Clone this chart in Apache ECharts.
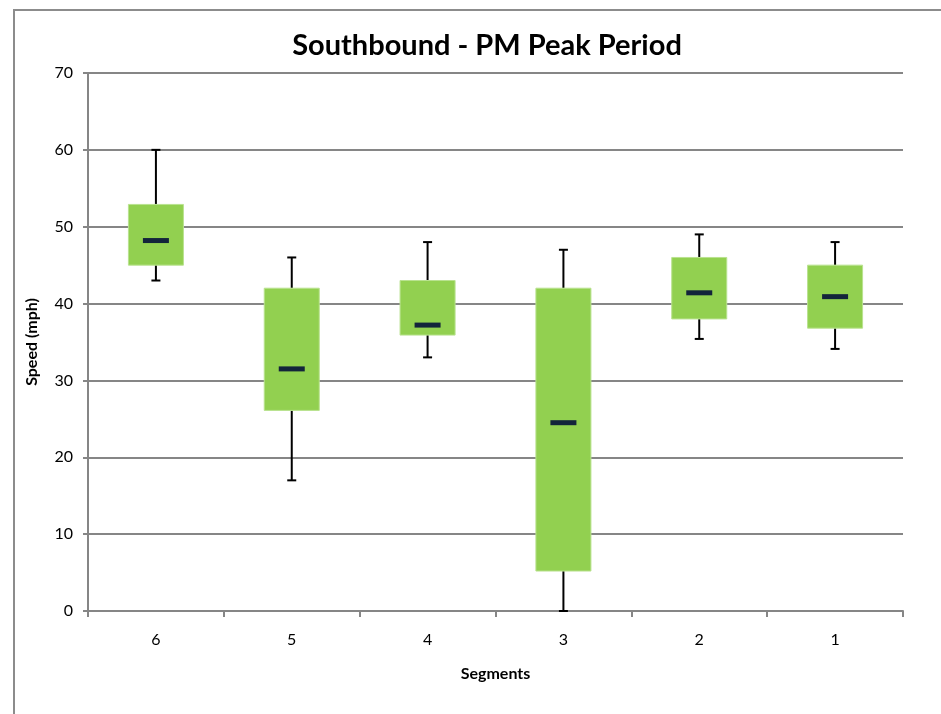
<!DOCTYPE html>
<html>
<head>
<meta charset="utf-8">
<script src="https://cdn.jsdelivr.net/npm/echarts@6/dist/echarts.min.js"></script>
<style>
html,body{margin:0;padding:0;background:#fff;}
#chart{width:941px;height:714px;}
</style>
</head>
<body>
<div id="chart"></div>
<script>
const categories = ['6', '5', '4', '3', '2', '1'];
const lows    = [43.0, 17.0, 33.0, 0.0, 35.4, 34.1];
const q1s     = [45.0, 26.1, 35.9, 5.2, 38.0, 36.8];
const medians = [48.2, 31.5, 37.2, 24.5, 41.4, 40.9];
const q3s     = [52.9, 42.0, 43.0, 42.0, 46.0, 45.0];
const highs   = [60.0, 46.0, 48.0, 47.0, 49.0, 48.0];
const yTicks  = [0, 10, 20, 30, 40, 50, 60, 70];

const data = categories.map((c, i) => [i, lows[i], q1s[i], medians[i], q3s[i], highs[i]]);

const FONT = 'Lato';
const chart = echarts.init(document.getElementById('chart'), null, {renderer: 'canvas'});

function renderItem(params, api) {
  const x = api.value(0);
  const lo = api.coord([x, api.value(1)]);
  const q1 = api.coord([x, api.value(2)]);
  const md = api.coord([x, api.value(3)]);
  const q3 = api.coord([x, api.value(4)]);
  const hi = api.coord([x, api.value(5)]);
  const band = api.size([1, 0])[0];
  const bw = band * 0.405;
  const cap = 9;
  const mw = 26, mh = 5;
  const cx = q1[0];
  const wStyle = {stroke: '#000', lineWidth: 2};
  return {
    type: 'group',
    children: [
      {type: 'line', shape: {x1: cx, y1: hi[1], x2: cx, y2: q3[1]}, style: wStyle},
      {type: 'line', shape: {x1: cx - cap / 2, y1: hi[1], x2: cx + cap / 2, y2: hi[1]}, style: wStyle},
      {type: 'line', shape: {x1: cx, y1: lo[1], x2: cx, y2: q1[1]}, style: wStyle},
      {type: 'line', shape: {x1: cx - cap / 2, y1: lo[1], x2: cx + cap / 2, y2: lo[1]}, style: wStyle},
      {type: 'rect', shape: {x: cx - bw / 2, y: q3[1], width: bw, height: q1[1] - q3[1]},
        style: {fill: '#92d050', stroke: '#b9e28f', lineWidth: 1}},
      {type: 'rect', shape: {x: cx - mw / 2, y: md[1] - mh / 2, width: mw, height: mh},
        style: {fill: '#13243b'}}
    ]
  };
}

chart.setOption({
  backgroundColor: '#fff',
  animation: false,
  title: {
    text: 'Southbound - PM Peak Period',
    left: 482, top: 26, textAlign: 'center',
    textStyle: {fontFamily: FONT, fontWeight: 'bold', fontSize: 29, color: '#000'}
  },
  graphic: [{
    type: 'rect', shape: {x: 14, y: 10, width: 1000, height: 1000},
    style: {fill: 'none', stroke: '#8c8c8c', lineWidth: 2}, z: -1
  }],
  grid: {left: 88, right: 38, top: 73, bottom: 103},
  xAxis: {
    type: 'category',
    data: categories,
    name: 'Segments',
    nameLocation: 'middle',
    nameGap: 55,
    nameTextStyle: {fontFamily: FONT, fontWeight: 'bold', fontSize: 16, color: '#000'},
    axisLine: {lineStyle: {color: '#868686', width: 2}},
    axisTick: {show: true, alignWithLabel: false, length: 6, lineStyle: {color: '#868686', width: 2}},
    axisLabel: {fontFamily: FONT, fontSize: 16, color: '#000', margin: 21},
    splitLine: {show: false}
  },
  yAxis: {
    type: 'value',
    min: 0, max: 70, interval: 10,
    name: 'Speed (mph)',
    nameLocation: 'middle',
    nameGap: 48,
    nameRotate: 90,
    nameTextStyle: {fontFamily: FONT, fontWeight: 'bold', fontSize: 16, color: '#000'},
    axisLine: {show: true, lineStyle: {color: '#868686', width: 2}},
    axisTick: {show: true, length: 5, lineStyle: {color: '#868686', width: 2}},
    axisLabel: {fontFamily: FONT, fontSize: 16, color: '#000', margin: 15,
      formatter: v => yTicks.includes(v) ? String(v) : ''},
    splitLine: {show: true, lineStyle: {color: '#868686', width: 2}}
  },
  series: [{
    type: 'custom',
    renderItem: renderItem,
    encode: {x: 0, y: [1, 2, 3, 4, 5]},
    data: data,
    z: 10
  }]
});
</script>
</body>
</html>
